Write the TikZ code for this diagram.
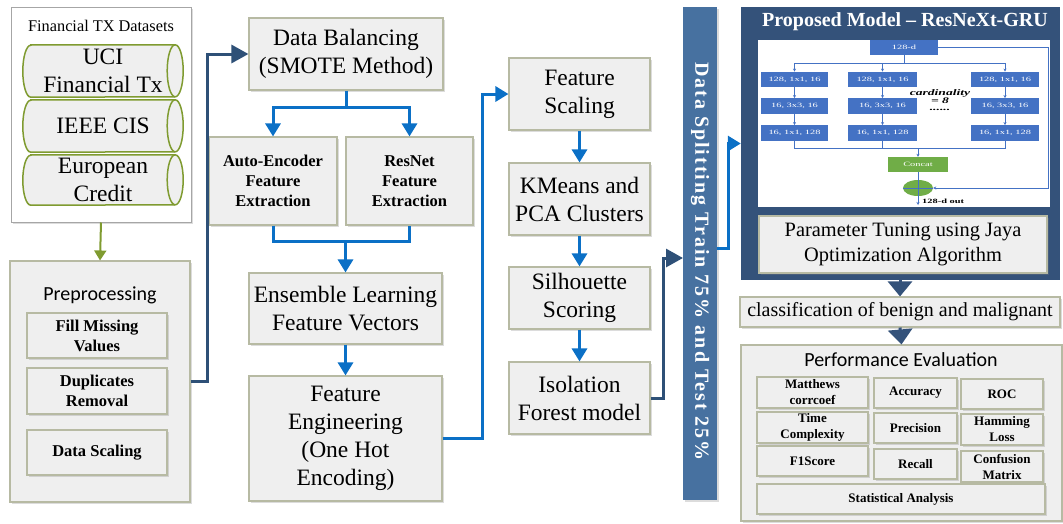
\documentclass[tikz,border=0pt]{standalone}
\usepackage{fontspec}
\usepackage{graphicx}
\setmainfont{Liberation Serif}
\newfontfamily\sanstitle{Carlito}
\usetikzlibrary{arrows.meta,shadows,shapes.geometric,backgrounds,calc}

\definecolor{boxfill}{HTML}{EFEFEF}
\definecolor{boxedge}{HTML}{B7BAA3}
\definecolor{flowblue}{HTML}{0B70C6}
\definecolor{navyline}{HTML}{2E5077}
\definecolor{olive}{HTML}{7F9B30}
\definecolor{splitbar}{HTML}{4771A0}
\definecolor{modelnavy}{HTML}{34527A}
\definecolor{rxblue}{HTML}{4472C4}
\definecolor{rxgreen}{HTML}{70AD47}

% horizontally stretched small print of the block diagram
\newcommand\stretchx[1]{\scalebox{1.6}[1]{#1}}

% outline of a horizontal drum around node #1, end radius 8pt, half height #2
\newcommand\drum[2]{%
  \filldraw[cylline] ([xshift=8pt]#1.north west) -- ([xshift=-8pt]#1.north east)
    arc[start angle=90,end angle=-90,x radius=8pt,y radius=#2] -- ([xshift=8pt]#1.south west)
    arc[start angle=270,end angle=90,x radius=8pt,y radius=#2] -- cycle;
  \draw[cylline,fill=none] ([xshift=-8pt]#1.north east)
    arc[start angle=90,end angle=270,x radius=8pt,y radius=#2];}

\begin{document}
\begin{tikzpicture}[x=1pt,y=-1pt,
  shade/.style={drop shadow={shadow xshift=1.6pt,shadow yshift=-1.6pt,opacity=0.28}},
  gbox/.style={draw=boxedge,line width=1.1pt,fill=boxfill,align=center,inner sep=1pt,shade},
  bigtxt/.style={font=\fontsize{23.5}{28}\selectfont},
  subb/.style={font=\fontsize{16.5}{20}\selectfont\bfseries},
  evb/.style={gbox,font=\fontsize{13}{16}\selectfont\bfseries},
  drumtxt/.style={align=center,inner sep=0pt,font=\fontsize{23.5}{28}\selectfont},
  flow/.style={draw=flowblue,line width=3pt,-{Triangle[length=13pt,width=15pt]}},
  flowline/.style={draw=flowblue,line width=3pt},
  navy/.style={draw=navyline,line width=3pt,-{Triangle[length=17pt,width=18pt]}},
  funnel/.style={draw=modelnavy,line width=3pt,-{Triangle[length=15pt,width=24pt]}},
  cylline/.style={draw=olive,line width=1.5pt,fill=boxfill},
  rx/.style={fill=rxblue,text=white,font=\fontsize{6.5}{7}\selectfont,inner sep=0pt,minimum height=15.5},
  rxline/.style={draw=rxblue,line width=0.8pt},
  rxarrow/.style={rxline,-{Stealth[length=3pt,width=3pt]}},
]
\useasboundingbox (0,0) rectangle (1063,523);

% ---------- datasets ----------
\node[font=\fontsize{16.3}{19}\selectfont] (dstitle) at (101,26) {Financial TX Datasets};
\node[drumtxt,minimum width=160,minimum height=52] (uci) at (103,71) {UCI\\Financial Tx};
\node[drumtxt,minimum width=160,minimum height=52] (ieee) at (103,126) {IEEE CIS};
\node[drumtxt,minimum width=160,minimum height=50] (euro) at (103,180) {European\\Credit};
\begin{pgfonlayer}{background}
  \node[draw=gray!70,line width=1pt,fill=white,shade,minimum width=180,minimum height=215] (ds) at (101,114.5) {};
  \drum{uci}{26pt}
  \drum{ieee}{26pt}
  \drum{euro}{25pt}
\end{pgfonlayer}

% ---------- preprocessing ----------
\node[gbox,minimum width=180,minimum height=241] (pre) at (100,381.5) {};
\node[font=\fontsize{20}{24}\selectfont\sanstitle] (pretitle) at (100,295) {Preprocessing};
\node[gbox,subb,minimum width=140,minimum height=45] (fill) at (97,335.5) {Fill Missing\\Values};
\node[gbox,subb,minimum width=140,minimum height=46] (dup) at (97,391) {Duplicates\\Removal};
\node[gbox,subb,minimum width=140,minimum height=45] (dsc) at (97,452.5) {Data Scaling};
\draw[draw=olive,line width=2pt,-{Triangle[length=10pt,width=12pt]}] (ds.south) -- (pre.north);

% ---------- feature extraction column ----------
\node[gbox,bigtxt,minimum width=194,minimum height=72] (db) at (346,54) {Data Balancing\\(SMOTE Method)};
\node[gbox,subb,minimum width=128,minimum height=88] (ae) at (273,181) {Auto-Encoder\\Feature\\Extraction};
\node[gbox,subb,minimum width=127,minimum height=88] (rn) at (409.5,181) {ResNet\\Feature\\Extraction};
\node[gbox,bigtxt,minimum width=193,minimum height=71] (ens) at (345.5,308.5) {Ensemble Learning\\Feature Vectors};
\node[gbox,bigtxt,minimum width=193,minimum height=125] (fe) at (345.5,438.5) {Feature\\Engineering\\(One Hot\\Encoding)};

\draw[navy] (pre.east) -- ++(17,0) |- (db.west);
\coordinate (dbfork) at ($(db.south)+(0,17)$);
\draw[flowline] (db.south) -- (dbfork);
\draw[flow] (dbfork) -| (ae.north);
\draw[flow] (dbfork) -| (rn.north);
\coordinate (mrg) at ($(ae.south)+(0,16)$);
\draw[flowline] (ae.south) -- (mrg) -| (rn.south);
\draw[flow] (ens.north |- mrg) -- (ens.north);
\draw[flow] (ens) -- (fe);

% ---------- clustering column ----------
\node[gbox,bigtxt,minimum width=141,minimum height=72] (fs) at (579.5,94) {Feature\\Scaling};
\node[gbox,bigtxt,minimum width=141,minimum height=72] (km) at (579.5,199) {KMeans and\\PCA Clusters};
\node[gbox,bigtxt,minimum width=141,minimum height=62] (sil) at (579.5,298) {Silhouette\\Scoring};
\node[gbox,bigtxt,minimum width=141,minimum height=72] (iso) at (579.5,398) {Isolation\\Forest model};
\draw[flow] (fe.east) -- ++(40,0) |- (fs.west);
\draw[flow] (fs) -- (km);
\draw[flow] (km) -- (sil);
\draw[flow] (sil) -- (iso);

% ---------- data split bar ----------
\node[fill=splitbar,shade,minimum width=493,minimum height=34,inner sep=0pt,rotate=-90,text=white,
      font=\fontsize{20}{21}\selectfont\bfseries\addfontfeature{LetterSpace=10}] (bar) at (700,253.5)
      {\hspace*{16pt}Data Splitting Train 75\% and Test 25\%};
\coordinate (barin) at (683,258);
\coordinate (barout) at (717,248);
\draw[navy] (iso.east) -- ++(13,0) |- (barin);

% ---------- proposed model ----------
\node[fill=modelnavy,minimum width=319,minimum height=273] (pm) at (900.5,143.5) {};
\node[text=white,font=\fontsize{20}{22}\selectfont\bfseries] (pmtitle) at (905,22) {Proposed Model – ResNeXt-GRU};
\node[fill=white,minimum width=292,minimum height=167,inner sep=0pt] (netimg) at (904,123.5) {};
\draw[flow] (barout) -- ++(11,0) |- (pm.west);

% ResNeXt block
\node[rx,minimum width=68] (r0) at (904,47.5) {\stretchx{128-d}};
\foreach \n/\x/\w in {a/794.5/67,b/882.5/69,c/1005/68}{
  \node[rx,minimum width=\w] (\n1) at (\x,79.5) {\stretchx{128, 1x1, 16}};
  \node[rx,minimum width=\w] (\n2) at (\x,106) {\stretchx{16, 3x3, 16}};
  \node[rx,minimum width=\w] (\n3) at (\x,133) {\stretchx{16, 1x1, 128}};
  \draw[rxarrow] (\n1) -- (\n2);
  \draw[rxarrow] (\n2) -- (\n3);
}
\coordinate (fork) at (904,63);
\draw[rxline] (r0.south) -- (fork);
\draw[rxline] (a1.north |- fork) -- (c1.north |- fork);
\foreach \n in {a,b,c}{\draw[rxarrow] (\n1.north |- fork) -- (\n1.north);}
\node[fill=rxgreen,text=white,minimum width=60,minimum height=15,inner sep=0pt,
      font=\fontsize{6.5}{7}\selectfont] (cc) at (918,164.5) {\stretchx{Concat}};
\coordinate (join) at (918,148);
\draw[rxline] (a3.south) -- (a3.south |- join) -- (c3.south |- join) -- (c3.south);
\draw[rxline] (b3.south) -- (b3.south |- join);
\draw[rxarrow] (join) -- (cc.north);
\node[ellipse,fill=rxgreen,minimum width=30,minimum height=16,inner sep=0pt] (sum) at (918,188) {};
\draw[rxline] (cc.south) -- (sum.south);
\draw[rxline] (sum.west) -- (sum.east);
\coordinate (skip) at (1048,188);
\draw[rxarrow] (r0.east) -| (skip) -- (sum.east);
\coordinate (outend) at (918,205);
\draw[rxarrow] (sum.south) -- (outend);
\node[anchor=west,inner sep=0pt,font=\fontsize{6.5}{7}\selectfont\bfseries] (outlbl) at (922,201) {\stretchx{128-d out}};
\node[align=center,inner sep=0pt,font=\fontsize{8.5}{7}\selectfont\bfseries\itshape] (card) at (940,100)
      {\stretchx{cardinality}\\\stretchx{= 8}\\\stretchx{......}};

\node[gbox,minimum width=288,minimum height=57,font=\fontsize{20.4}{25}\selectfont] (pt) at (903,244.5)
      {Parameter Tuning using Jaya\\Optimization Algorithm};

% ---------- classification and evaluation ----------
\node[gbox,minimum width=320,minimum height=30,font=\fontsize{20}{24}\selectfont] (cls) at (900,312)
      {classification of benign and malignant};
\node[gbox,minimum width=321,minimum height=176] (perf) at (901.5,433) {};
\draw[funnel] (pm.south -| cls.north) -- (cls.north);
\draw[funnel] (cls.south) -- (perf.north);
\node[font=\fontsize{20}{24}\selectfont\sanstitle] (perftitle) at (901,360) {Performance Evaluation};

\node[evb,minimum width=111,minimum height=31] (mcc) at (812.5,392.5) {Matthews\\corrcoef};
\node[evb,minimum width=111,minimum height=31] (time) at (812.5,427.5) {Time\\Complexity};
\node[evb,minimum width=111,minimum height=30] (f1) at (812.5,461) {F1Score};
\node[evb,minimum width=83,minimum height=30] (acc) at (915.5,393) {Accuracy};
\node[evb,minimum width=83,minimum height=30] (prec) at (915.5,428) {Precision};
\node[evb,minimum width=83,minimum height=30] (rec) at (915.5,464) {Recall};
\node[evb,minimum width=82,minimum height=30] (roc) at (1002,394) {ROC};
\node[evb,minimum width=82,minimum height=31] (ham) at (1002,429.5) {Hamming\\Loss};
\node[evb,minimum width=82,minimum height=31] (conf) at (1002,466.5) {Confusion\\Matrix};
\node[evb,minimum width=288,minimum height=30] (stat) at (901,499) {Statistical Analysis};
\end{tikzpicture}
\end{document}
